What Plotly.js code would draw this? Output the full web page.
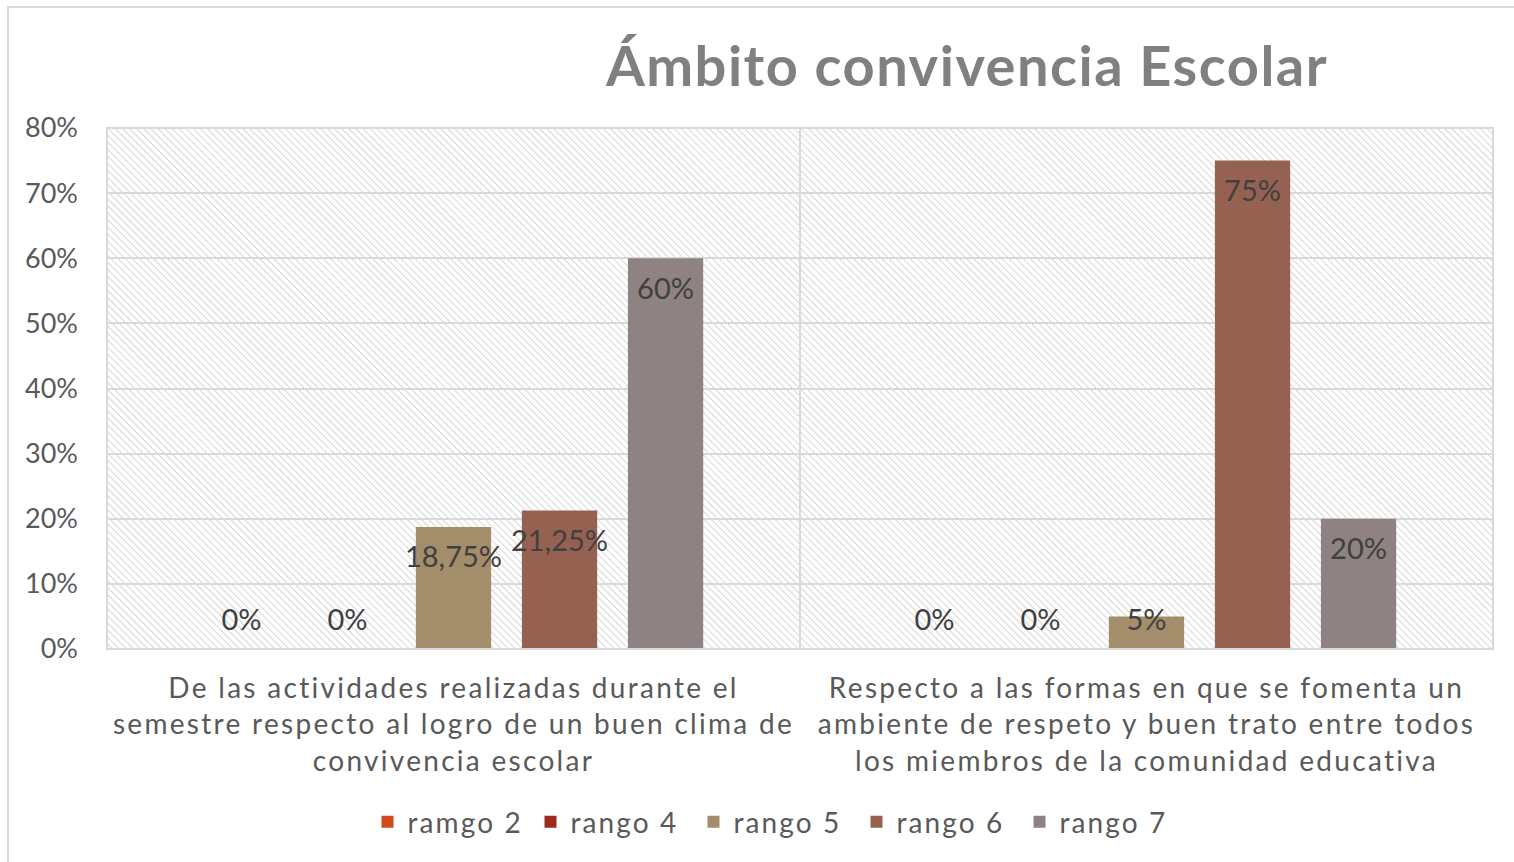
<!DOCTYPE html>
<html>
<head>
<meta charset="utf-8">
<script src="https://cdn.plot.ly/plotly-3.0.1.min.js"></script>
<style>
  html, body { margin: 0; padding: 0; background: #ffffff; }
  #frame { position: absolute; left: 7px; top: 6px; width: 1600px; height: 1000px; border-left: 2px solid #D9D9D9; border-top: 2px solid #D9D9D9; box-sizing: border-box; }
  #chart { position: absolute; left: 0; top: 0; width: 1514px; height: 862px; }
  #chart .xtick text { letter-spacing: 2.3px; }
  #chart .legendtext, text.legendtext { letter-spacing: 2.1px; }
  #chart .gtitle { letter-spacing: 1.5px; }
</style>
</head>
<body>
<div id="frame"></div>
<div id="chart"></div>
<script>
const categories = [
  "De las actividades realizadas durante el<br>semestre respecto al logro de un buen clima de<br>convivencia escolar",
  "Respecto a las formas en que se fomenta un<br>ambiente de respeto y buen trato entre todos<br>los miembros de la comunidad educativa"
];
const seriesNames = ["ramgo 2", "rango 4", "rango 5", "rango 6", "rango 7"];
const rango2 = [0, 0];
const rango4 = [0, 0];
const rango5 = [18.75, 5];
const rango6 = [21.25, 75];
const rango7 = [60, 20];
const labels2 = ["0%", "0%"];
const labels4 = ["0%", "0%"];
const labels5 = ["18,75%", "5%"];
const labels6 = ["21,25%", "75%"];
const labels7 = ["60%", "20%"];
const yTickVals = [0, 10, 20, 30, 40, 50, 60, 70, 80];
const yTickText = ["0%", "10%", "20%", "30%", "40%", "50%", "60%", "70%", "80%"];

const colors = ["#D24A17", "#9B2B1F", "#A38D6B", "#956251", "#8F8282"];
const allValues = [rango2, rango4, rango5, rango6, rango7];
const allLabels = [labels2, labels4, labels5, labels6, labels7];

const traces = [];
allValues.forEach((vals, i) => {
  traces.push({
    type: "bar", x: categories, y: vals, name: seriesNames[i],
    marker: { color: colors[i] }, offsetgroup: "g" + i, alignmentgroup: "a",
    hoverinfo: "skip"
  });
});
const insetTop = 5.1, floorY = 4.1;
allValues.forEach((vals, i) => {
  traces.push({
    type: "scatter", mode: "text", x: categories,
    y: vals.map(v => Math.max(v - insetTop, floorY)),
    text: allLabels[i], textposition: "middle center",
    textfont: { family: "Lato, 'Open Sans', sans-serif", size: 29, color: "#404040" },
    offsetgroup: "g" + i, alignmentgroup: "a", showlegend: false, hoverinfo: "skip", cliponaxis: false
  });
});

const hatch = "data:image/svg+xml;utf8," + encodeURIComponent(
  '<svg xmlns="http://www.w3.org/2000/svg" width="1386" height="521" viewBox="0 0 1386 521" preserveAspectRatio="none">' +
  '<defs><pattern id="p" patternUnits="userSpaceOnUse" width="5" height="5" patternTransform="rotate(-45)">' +
  '<line x1="0" y1="0" x2="0" y2="5" stroke="#D6D6D6" stroke-width="2"/></pattern></defs>' +
  '<rect width="1386" height="521" fill="#ffffff"/><rect width="1386" height="521" fill="url(#p)"/></svg>');

const layout = {
  width: 1514, height: 862,
  margin: { l: 107, r: 21, t: 128, b: 213 },
  paper_bgcolor: "rgba(0,0,0,0)", plot_bgcolor: "rgba(0,0,0,0)",
  font: { family: "Lato, 'Open Sans', sans-serif", color: "#595959" },
  title: {
    text: "<b>Ámbito convivencia Escolar</b>",
    font: { family: "Lato, 'Open Sans', sans-serif", size: 56, color: "#808080" },
    x: 967 / 1514, xanchor: "center", xref: "container", y: 1 - 66 / 862, yanchor: "middle", yref: "container"
  },
  barmode: "group", bargap: 0.235, bargroupgap: 0.29,
  scattermode: "group", scattergap: 0.235,
  xaxis: {
    type: "category", showgrid: false, zeroline: false, showline: false, ticks: "",
    tickfont: { size: 28, color: "#595959" }, automargin: false, ticklabelstandoff: 20
  },
  yaxis: {
    range: [0, 80], tickvals: yTickVals, ticktext: yTickText, showgrid: true,
    gridcolor: "#D9D9D9", gridwidth: 2, zeroline: false, showline: false,
    tickfont: { size: 27, color: "#595959" }, ticks: "", ticklabelstandoff: 28, automargin: false
  },
  showlegend: true,
  legend: {
    orientation: "h", x: 775 / 1514, xanchor: "center", xref: "container", y: 1 - 822 / 862, yref: "container", yanchor: "middle",
    font: { size: 28, color: "#595959" }, itemwidth: 30, traceorder: "normal",
    entrywidth: 118, entrywidthmode: "pixels"
  },
  images: [{
    source: hatch, xref: "paper", yref: "paper", x: 0, y: 1, sizex: 1, sizey: 1,
    xanchor: "left", yanchor: "top", sizing: "stretch", layer: "below"
  }],
  shapes: [
    { type: "rect", xref: "paper", yref: "paper", x0: 0, x1: 1, y0: 0, y1: 1, line: { color: "#D9D9D9", width: 2 }, layer: "above" },
    { type: "line", xref: "paper", yref: "paper", x0: 0.5, x1: 0.5, y0: 0, y1: 1, line: { color: "#D9D9D9", width: 2 }, layer: "below" }
  ]
};

Plotly.newPlot("chart", traces, layout, { displayModeBar: false, staticPlot: true });
</script>
</body>
</html>
